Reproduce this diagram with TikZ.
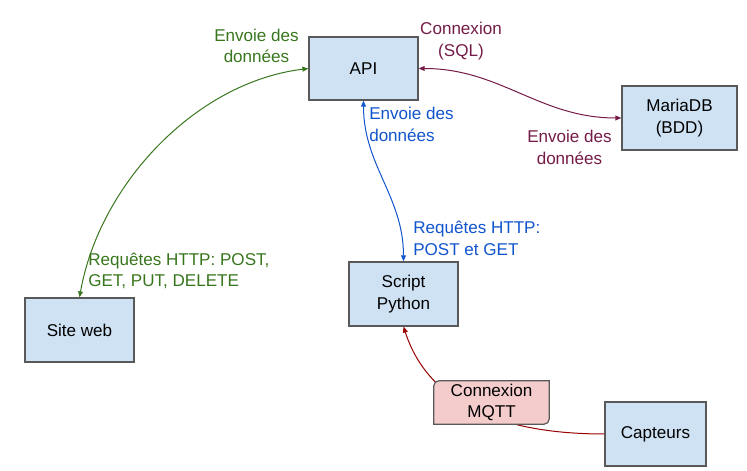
\documentclass[tikz,border=0pt]{standalone}
\usepackage{fontspec}
\setmainfont{Liberation Sans}
\usetikzlibrary{
	arrows.meta,
	backgrounds,
}
\definecolor{boxblue}{HTML}{CFE2F3}
\definecolor{boxpink}{HTML}{F4CCCC}
\definecolor{boxline}{HTML}{595959}
\definecolor{webgreen}{HTML}{38761D}
\definecolor{pyblue}{HTML}{1155CC}
\definecolor{sqlpurple}{HTML}{741B47}
\definecolor{mqttred}{HTML}{990000}
\tikzset{component/.style={
		% The shape:
		rectangle,
		% The size:
		minimum width=81.75pt,minimum height=48pt,inner sep=0pt,
		% The border:
		line width=0.9pt,draw=boxline,
		% The filling:
		fill=boxblue,
		% make sure text aligns properly
		align=center,text=black,
}}
\tikzset{mqttlabel/.style={
		% only the size, the outline is drawn below
		minimum width=86.25pt,minimum height=32.25pt,inner sep=0pt,
		align=center,text=black,
}}
\tikzset{flowtext/.style={
		inner sep=0pt,
}}

\begin{document}
\begin{tikzpicture}[x=0.75pt,y=0.75pt,>={Triangle[length=4.5pt,width=3.6pt]},
	font=\fontsize{12.8}{16.3}\selectfont,
	link/.style={line width=0.75pt}]
	\useasboundingbox (0,0) rectangle (747,471);
	% the boxes
	\node[component,minimum height=47.25pt] (api) at (363.5,402.5) {API};
	\node[component,minimum width=86.25pt] (bdd) at (679.5,353) {MariaDB\\(BDD)};
	\node[component] (site) at (79.5,141) {Site web};
	\node[component] (script) at (403.5,177) {Script\\Python};
	\node[component,minimum width=75.75pt] (capteurs) at (655.5,37) {Capteurs};
	\node[mqttlabel] (mqtt) at (491.5,68.5) {Connexion\\MQTT};
	% the texts on the links
	\node[flowtext,webgreen,align=center] (envoieweb) at (256.5,425) {Envoie des\\données};
	\node[flowtext,sqlpurple,align=center] (connsql) at (461,430) {Connexion\\(SQL)};
	\node[flowtext,pyblue,align=left,anchor=west] (envoiepy) at (369,346.5) {Envoie des\\données};
	\node[flowtext,sqlpurple,align=center] (envoiebdd) at (569.5,323.5) {Envoie des\\données};
	\node[flowtext,webgreen,align=left,anchor=west] (reqweb) at (88,200) {Requêtes HTTP: POST,\\GET, PUT, DELETE};
	\node[flowtext,pyblue,align=left,anchor=west] (reqpy) at (413,232.5) {Requêtes HTTP:\\POST et GET};
	\begin{scope}[on background layer]
		\draw [<->,link,webgreen] (api.west) to[out=187,in=80,looseness=0.9] (site.north);
		\draw [<->,link,pyblue] (api.south) to[out=-90,in=90] (script.north);
		\draw [<->,link,sqlpurple] (api.east) to[out=0,in=180] (bdd.west);
		\draw [->,link,mqttred] (capteurs.west) to[out=180,in=-72] (script.south);
		% MQTT box: two round corners only
		\filldraw [fill=boxpink,draw=boxline,line width=0.9pt] (mqtt.west) [rounded corners=4pt] -- (mqtt.north west) -- (mqtt.north) [sharp corners] -- (mqtt.north east) -- (mqtt.east) [rounded corners=4pt] -- (mqtt.south east) -- (mqtt.south) [sharp corners] -- (mqtt.south west) -- cycle;
	\end{scope}
\end{tikzpicture}
\end{document}
